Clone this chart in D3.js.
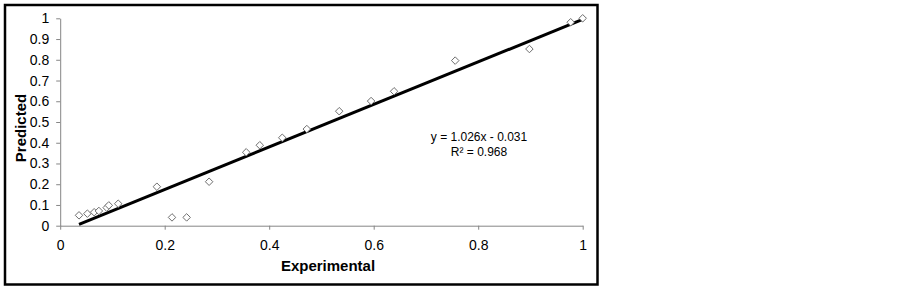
<!DOCTYPE html>
<html>
<head>
<meta charset="utf-8">
<script src="https://cdn.jsdelivr.net/npm/d3@7"></script>
<style>
  body { margin: 0; background: #fff; }
  svg text { font-family: "Liberation Sans", Arial, sans-serif; }
</style>
</head>
<body>
<div id="chart"></div>
<script>
// data
const experimental = [0.036, 0.052, 0.065, 0.074, 0.089, 0.093, 0.111, 0.185, 0.214, 0.242,
  0.285, 0.356, 0.382, 0.425, 0.472, 0.534, 0.595, 0.639, 0.756, 0.898, 0.977, 1.0];
const predicted = [0.05, 0.058, 0.065, 0.071, 0.087, 0.098, 0.106, 0.188, 0.04, 0.04,
  0.212, 0.354, 0.388, 0.424, 0.466, 0.552, 0.601, 0.648, 0.796, 0.852, 0.981, 1.0];
const xTicks = [0, 0.2, 0.4, 0.6, 0.8, 1];
const yTicks = [0, 0.1, 0.2, 0.3, 0.4, 0.5, 0.6, 0.7, 0.8, 0.9, 1];
const slope = 1.026;
const intercept = -0.031;
const equationLines = ["y = 1.026x - 0.031", "R\u00b2 = 0.968"];

const width = 903;
const height = 287;
const axisColor = "#868686";

const svg = d3.select("#chart")
  .append("svg")
  .attr("width", width)
  .attr("height", height);

// outer frame
svg.append("rect")
  .attr("x", 5).attr("y", 5)
  .attr("width", 592.5).attr("height", 279.5)
  .attr("fill", "none")
  .attr("stroke", "#000")
  .attr("stroke-width", 2.5);

const xScale = d3.scaleLinear().domain([0, 1]).range([60.2, 582.7]);
const yScale = d3.scaleLinear().domain([0, 1]).range([225.7, 18.3]);

const xAxis = svg.append("g")
  .attr("transform", `translate(0, ${yScale(0)})`)
  .call(d3.axisBottom(xScale).tickValues(xTicks).tickSize(4).tickSizeOuter(0)
    .tickFormat(d3.format("")));

const yAxis = svg.append("g")
  .attr("transform", `translate(${xScale(0)}, 0)`)
  .call(d3.axisLeft(yScale).tickValues(yTicks).tickSize(4).tickSizeOuter(0)
    .tickFormat(d3.format("")));

[xAxis, yAxis].forEach((g) => {
  g.select(".domain").attr("stroke", axisColor).attr("stroke-width", 1);
  g.selectAll(".tick line").attr("stroke", axisColor);
  g.selectAll(".tick text")
    .attr("fill", "#000")
    .style("font-size", "14px")
    .style("font-family", "Liberation Sans, Arial, sans-serif");
});
xAxis.selectAll(".tick text").attr("y", 14);
yAxis.selectAll(".tick text").attr("x", -11);

// trend line
const xExt = d3.extent(experimental);
const line = d3.line().x((d) => xScale(d)).y((d) => yScale(slope * d + intercept));
svg.append("path")
  .attr("d", line(xExt))
  .attr("fill", "none")
  .attr("stroke", "#000")
  .attr("stroke-width", 3);

// markers
const diamond = d3.symbol().type(d3.symbolDiamond2).size(36);
svg.append("g")
  .selectAll("path")
  .data(experimental.map((x, i) => ({ x, y: predicted[i] })))
  .join("path")
  .attr("d", diamond)
  .attr("transform", (d) => `translate(${xScale(d.x)}, ${yScale(d.y)})`)
  .attr("fill", "#fff")
  .attr("stroke", "#6e6e6e")
  .attr("stroke-width", 1);

// equation
svg.append("g")
  .selectAll("text")
  .data(equationLines)
  .join("text")
  .attr("x", 479)
  .attr("y", (d, i) => 141 + i * 15)
  .attr("text-anchor", "middle")
  .style("font-size", "12px")
  .text((d) => d);

// axis titles
svg.append("text")
  .attr("x", 328)
  .attr("y", 271)
  .attr("text-anchor", "middle")
  .style("font-size", "15px")
  .style("font-weight", "bold")
  .text("Experimental");

svg.append("text")
  .attr("transform", "translate(26, 128) rotate(-90)")
  .attr("text-anchor", "middle")
  .style("font-size", "15px")
  .style("font-weight", "bold")
  .text("Predicted");
</script>
</body>
</html>
